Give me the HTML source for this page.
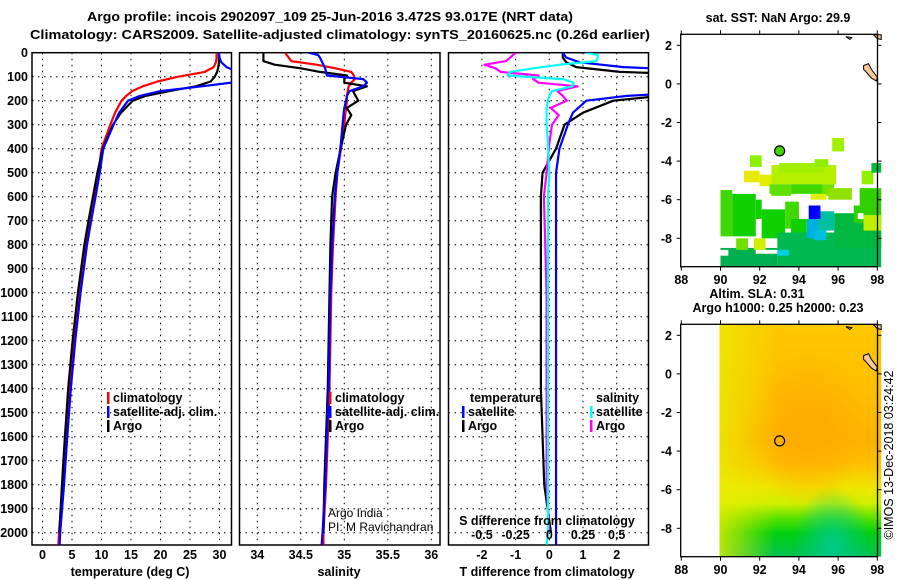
<!DOCTYPE html>
<html><head><meta charset="utf-8"><style>
html,body{margin:0;padding:0;background:#fff;}
svg{display:block;font-family:"Liberation Sans",Arial,sans-serif;}
.b{font-weight:bold;font-size:12.5px;fill:#000;}
</style></head><body>
<svg id="chart" width="900" height="580" viewBox="0 0 900 580" xmlns="http://www.w3.org/2000/svg">
<defs>
<clipPath id="c1"><rect x="32" y="52.7" width="199.5" height="492.3"/></clipPath>
<clipPath id="c2"><rect x="239.5" y="52.7" width="200.5" height="492.3"/></clipPath>
<clipPath id="c3"><rect x="448.5" y="52.7" width="200" height="492.3"/></clipPath>
<linearGradient id="slaV" x1="0" y1="0" x2="0" y2="1">
<stop offset="0" stop-color="#ffc800"/><stop offset="0.3" stop-color="#ffbe00"/>
<stop offset="0.5" stop-color="#ffb200"/><stop offset="0.6" stop-color="#ffc000"/>
<stop offset="0.7" stop-color="#f0e400"/><stop offset="0.77" stop-color="#d0f000"/>
<stop offset="0.84" stop-color="#50e000"/><stop offset="0.9" stop-color="#00d010"/>
<stop offset="1" stop-color="#00c050"/></linearGradient>
<radialGradient id="slaR" cx="0.55" cy="0.45" r="0.35"><stop offset="0" stop-color="#ffa800" stop-opacity="0.9"/><stop offset="1" stop-color="#ffa800" stop-opacity="0"/></radialGradient>
<linearGradient id="slaL" x1="0" y1="0" x2="1" y2="0"><stop offset="0" stop-color="#e8ec00" stop-opacity="0.8"/><stop offset="0.35" stop-color="#e8ec00" stop-opacity="0"/></linearGradient>
<radialGradient id="slaT" cx="0.7" cy="0.95" r="0.25"><stop offset="0" stop-color="#00c890" stop-opacity="0.9"/><stop offset="1" stop-color="#00c890" stop-opacity="0"/></radialGradient>
</defs>
<g>
<text class="b" x="330" y="21" text-anchor="middle" textLength="486" lengthAdjust="spacingAndGlyphs">Argo profile: incois 2902097_109 25-Jun-2016 3.472S 93.017E (NRT data)</text>
<text class="b" x="340" y="39" text-anchor="middle" textLength="620" lengthAdjust="spacingAndGlyphs">Climatology: CARS2009. Satellite-adjusted climatology: synTS_20160625.nc (0.26d earlier)</text>
</g>
<g id="layer"></g>
</svg>
<script>
// ---- data ----
const tDepths = [0,20,40,60,80,100,120,140,160,180,200,250,300,400,500,600,700,800,900,1000,1200,1400,1600,1800,2000,2050];
const climT = [29.5,29.5,29.4,29.0,27.5,23.0,19.5,17.0,15.2,14.2,13.4,12.3,11.5,10.0,9.5,8.8,8.05,7.35,6.8,6.25,5.35,4.6,4.0,3.45,2.8,2.7];
const satT  = [29.9,30.0,30.3,31.2,33.0,34.0,33.5,27.0,20.0,16.5,14.5,13.0,12.05,10.3,9.7,9.0,8.25,7.55,7.0,6.45,5.55,4.8,4.2,3.65,3.0,2.9];
const argoT = [29.9,29.9,29.9,29.8,29.6,29.2,28.5,26.0,21.5,17.5,15.3,13.3,11.95,10.2,9.3,8.55,7.8,7.1,6.55,6.0,5.1,4.35,3.8,3.3,2.85,null];
const sDepths = [0,10,20,35,50,65,80,95,110,125,140,160,180,200,230,260,300,380,500,600,800,1000,1200,1400,1600,1800,2000,2050];
const climS = [34.32,34.34,34.36,34.39,34.68,34.9,35.08,35.11,35.12,35.08,35.05,35.04,35.03,35.03,35.02,35.01,35.0,34.97,34.92,34.9,34.87,34.85,34.84,34.83,34.81,34.79,34.76,34.76];
const satS  = [34.59,34.7,34.72,34.74,34.76,34.78,34.79,34.8,35.22,35.26,35.22,35.06,35.03,35.02,35.0,34.99,34.98,34.96,34.92,34.89,34.86,34.84,34.83,34.82,34.80,34.78,34.75,34.74];
const argoS = [34.07,34.07,34.07,34.07,34.2,34.5,34.72,35.03,35.0,35.0,35.26,35.1,35.13,35.16,35.03,35.08,35.02,34.97,34.9,34.86,34.84,34.83,34.82,34.81,34.79,34.77,34.76,null];
const depthTicks = [0,100,200,300,400,500,600,700,800,900,1000,1100,1200,1300,1400,1500,1600,1700,1800,1900,2000];
const tempTicks = [0,5,10,15,20,25,30];
const salTicks = [34,34.5,35,35.5,36];
const salTickLabels = ['34','34.5','35','35.5','36'];
const tdTicks = [-2,-1,0,1,2];
const sdTicks = [-0.5,-0.25,0,0.25,0.5];
const sdTickLabels = ['-0.5','-0.25','0','0.25','0.5'];
const lonTicks = [88,90,92,94,96,98];
const latTicks = [2,0,-2,-4,-6,-8];
const argoLon = 93.017, argoLat = -3.472;
// SST pixel blocks: [lon0, lat0, lon1, lat1, colour]
const sstBlocks = [
[91.5,-3.7,92.1,-4.3,'#8cf000'],[91.2,-4.5,92.0,-5.1,'#e8e800'],[92.0,-4.7,92.6,-5.3,'#e0f000'],
[92.6,-4.2,95.9,-5.2,'#b4f000'],[93.0,-4.1,95.3,-4.6,'#a0f000'],[94.8,-3.9,95.5,-4.3,'#90f000'],
[95.7,-2.8,96.3,-3.5,'#a0f000'],[97.2,-4.5,97.8,-5.2,'#90f000'],[97.7,-4.1,98.2,-4.6,'#00c040'],
[92.5,-5.2,93.6,-5.8,'#60e000'],[93.6,-5.2,95.2,-5.7,'#40d800'],[95.2,-5.2,95.8,-5.8,'#70e000'],
[94.6,-5.7,95.4,-6.0,'#e0f000'],[95.5,-5.4,96.7,-6.0,'#90e000'],[97.1,-5.4,98.2,-6.3,'#30d000'],
[90.0,-5.5,90.6,-7.9,'#40d800'],[90.6,-5.7,91.8,-7.9,'#10d000'],[91.8,-6.0,92.1,-7.0,'#10d000'],
[92.1,-6.5,93.3,-8.0,'#10d000'],[93.3,-6.1,94.0,-7.5,'#40d800'],[93.6,-7.0,94.4,-8.0,'#10d000'],
[92.9,-7.7,98.2,-9.5,'#00b850'],[90.0,-8.5,92.9,-9.5,'#00b050'],[95.8,-6.7,98.2,-8.5,'#00b840'],
[96.8,-6.3,98.2,-7.2,'#30d000'],[97.3,-6.8,98.2,-7.6,'#c0f000'],
[94.4,-7.0,95.0,-8.0,'#00b0e0'],[95.0,-6.6,95.8,-7.6,'#00c0a0'],[94.8,-7.6,95.4,-8.1,'#00c0e0'],
[94.5,-6.3,95.1,-7.0,'#0000ff'],[92.9,-8.6,93.5,-8.9,'#00d0e0'],
[91.7,-8.0,92.3,-8.6,'#d0f000'],[90.8,-8.0,91.4,-8.6,'#70e000'],[90.0,-8.6,90.4,-8.9,'#ffffff'],
[91.8,-8.6,92.9,-8.8,'#ffffff'],[92.4,-5.7,92.6,-6.0,'#ffffff'],[97.0,-6.7,97.3,-7.0,'#ffffff']
];

// ---- scales ----
const Y0 = 52.7, YB = 545, YS = 0.24;
function yD(d){ return Y0 + d*YS; }
function xT(t){ return 42.5 + t*5.9; }
function xS(s){ return 257.3 + (s-34)*87; }
function xTd(d){ return 549.3 + d*33.7; }
function xSd(d){ return 549.3 + d*4*33.7; }
function mX(lon){ return 681.3 + (lon-88)*19.6; }
function mY(lat, off){ return off + 45.3 + (2-lat)*19.3; }

const NS = 'http://www.w3.org/2000/svg';
const layer = document.getElementById('layer');
function mk(tag, attrs, parent){
  const el = document.createElementNS(NS, tag);
  for (const k in attrs) el.setAttribute(k, attrs[k]);
  (parent||layer).appendChild(el);
  return el;
}
function txt(x,y,s,anchor,parent,extra){
  const el = mk('text', Object.assign({x:x,y:y,'text-anchor':anchor||'middle','class':'b'}, extra||{}), parent);
  el.textContent = s;
  return el;
}

// ---- profile panels ----
const panels = [
  {x0:32, x1:231.5, clip:'c1', name:'temperature-panel'},
  {x0:239.5, x1:440, clip:'c2', name:'salinity-panel'},
  {x0:448.5, x1:648.5, clip:'c3', name:'difference-panel'}
];
const vgrids = [tempTicks.map(xT), salTicks.map(xS), tdTicks.map(xTd)];
panels.forEach((p,i)=>{
  const g = mk('g',{});
  
  
  p.g = g;
  depthTicks.forEach(d=>{
    const l = mk('line',{x1:p.x0,x2:p.x1,y1:yD(d),y2:yD(d),stroke:'#000','stroke-width':1,'stroke-dasharray':'1.5,4.5'},g);
    
    
  });
  vgrids[i].forEach(x=>{
    const l = mk('line',{x1:x,x2:x,y1:Y0,y2:YB,stroke:'#000','stroke-width':1,'stroke-dasharray':'1.5,4.5'},g);
    
    
  });
  const fr = mk('rect',{x:p.x0,y:Y0,width:p.x1-p.x0,height:YB-Y0,fill:'none',stroke:'#000','stroke-width':1.5},g);
  
  
});

// depth axis labels
depthTicks.forEach(d=>{
  const t = txt(28, yD(d)+4.5, String(d), 'end');
  
  
});
// x tick labels
tempTicks.forEach(v=>{ const t = txt(xT(v), 559, String(v));   });
salTicks.forEach((v,i)=>{ const t = txt(xS(v), 559, salTickLabels[i]);   });
tdTicks.forEach(v=>{ const t = txt(xTd(v), 559, String(v));   });
sdTicks.forEach((v,i)=>{ const t = txt(xSd(v), 539, sdTickLabels[i]);   });
let at;
at = txt(130, 576, 'temperature (deg C)');  
at = txt(339, 576, 'salinity');  
at = txt(547, 576, 'T difference from climatology');  
at = txt(547, 525, 'S difference from climatology');  

function profile(vals, depths, xf, color, clip, parent){
  let d = '', pen = false;
  vals.forEach((v,i)=>{
    if (v === null || v === undefined){ pen = false; return; }
    d += (pen ? 'L' : 'M') + xf(v).toFixed(2) + ',' + yD(depths[i]).toFixed(2);
    pen = true;
  });
  return mk('path',{d:d,fill:'none',stroke:color,'stroke-width':2.2,'stroke-linejoin':'round','clip-path':'url(#'+clip+')'},parent);
}
function diff(a,b){ return a.map((v,i)=> (v===null||b[i]===null) ? null : v-b[i]); }
let pl;
pl = profile(climT, tDepths, xT, '#ff0000', 'c1', panels[0].g);  
pl = profile(argoT, tDepths, xT, '#000000', 'c1', panels[0].g);  
pl = profile(satT, tDepths, xT, '#0000ff', 'c1', panels[0].g);  
pl = profile(climS, sDepths, xS, '#ff0000', 'c2', panels[1].g);  
pl = profile(argoS, sDepths, xS, '#000000', 'c2', panels[1].g);  
pl = profile(satS, sDepths, xS, '#0000ff', 'c2', panels[1].g);  
pl = profile(diff(argoT,climT), tDepths, xTd, '#000000', 'c3', panels[2].g);  
pl = profile(diff(satT,climT), tDepths, xTd, '#0000ff', 'c3', panels[2].g);  
pl = profile(diff(argoS,climS), sDepths, xSd, '#ff00ff', 'c3', panels[2].g);  
pl = profile(diff(satS,climS), sDepths, xSd, '#00ffff', 'c3', panels[2].g);  

// legends
function legItem(x,y,color,label){
  const g = mk('g',{});
  
  
  mk('rect',{x:x,y:y-10,width:2.5,height:12,fill:color},g);
  txt(x+6, y, label, 'start', g);
}
legItem(107,402,'#ff0000','climatology');
legItem(107,416,'#0000ff','satellite-adj. clim.');
legItem(107,430,'#000000','Argo');
legItem(329,402,'#ff0000','climatology');
legItem(329,416,'#0000ff','satellite-adj. clim.');
legItem(329,430,'#000000','Argo');
at = txt(470, 402, 'temperature', 'start');  
at = txt(596, 402, 'salinity', 'start');  
legItem(462,416,'#0000ff','satellite');
legItem(462,430,'#000000','Argo');
legItem(590,416,'#00ffff','satellite');
legItem(590,430,'#ff00ff','Argo');
at = txt(328, 517, 'Argo India', 'start', null, {'class':'', 'font-size':'12', 'fill':'#000'});  
at = txt(328, 531, 'PI: M Ravichandran', 'start', null, {'class':'', 'font-size':'12', 'fill':'#000'});  

// ---- maps ----
function mapFrame(off, name){
  const g = mk('g',{});
  
  
  return g;
}
function mapAxes(g, off){
  const top = off+34.3, bot = off+266.7, left = 680.7, right = 877.5;
  const fr = mk('rect',{x:left,y:top,width:right-left,height:bot-top,fill:'none',stroke:'#000','stroke-width':1.3},g);
  
  
  lonTicks.forEach(l=>{
    mk('line',{x1:mX(l),x2:mX(l),y1:bot,y2:bot+4,stroke:'#000'},g);
    mk('line',{x1:mX(l),x2:mX(l),y1:top,y2:top-4,stroke:'#000'},g);
    const t = txt(mX(l), off+284, String(l), 'middle', g, {'font-size':'13'});
    
    
  });
  latTicks.forEach(l=>{
    mk('line',{x1:left-4,x2:left,y1:mY(l,off),y2:mY(l,off),stroke:'#000'},g);
    mk('line',{x1:right,x2:right+4,y1:mY(l,off),y2:mY(l,off),stroke:'#000'},g);
    const t = txt(672, mY(l,off)+4.5, String(l), 'end', g, {'font-size':'13'});
    
    
  });
}
function land(g, off){
  const pts = [[97.3,0.95],[97.55,1.05],[97.7,0.75],[97.85,0.55],[98.0,0.35],[97.95,0.15],[97.7,0.3],[97.45,0.6],[97.3,0.75]];
  const p = mk('polygon',{points:pts.map(q=>mX(q[0]).toFixed(1)+','+mY(q[1],off).toFixed(1)).join(' '),fill:'#f8c898',stroke:'#000','stroke-width':1},g);
  
  
  const p2 = mk('polygon',{points:[[97.8,2.55],[98.2,2.55],[98.2,2.3],[98.0,2.35]].map(q=>mX(q[0]).toFixed(1)+','+mY(q[1],off).toFixed(1)).join(' '),fill:'#f8c898',stroke:'#000','stroke-width':1},g);
  
  
  const p3 = mk('polygon',{points:[[96.4,2.45],[96.7,2.4],[96.6,2.3]].map(q=>mX(q[0]).toFixed(1)+','+mY(q[1],off).toFixed(1)).join(' '),fill:'#f8c898',stroke:'#000','stroke-width':1},g);
  
  
}
// map 1: SST
const g1 = mapFrame(0,'sst-map');
sstBlocks.forEach(b=>{
  const r = mk('rect',{x:mX(b[0]),y:mY(b[1],0),width:mX(b[2])-mX(b[0]),height:mY(b[3],0)-mY(b[1],0),fill:b[4]},g1);
  
  
});
land(g1,0);
mapAxes(g1,0);
const pt1 = mk('circle',{cx:mX(argoLon),cy:mY(argoLat,0),r:5,fill:'#40d800',stroke:'#000','stroke-width':1.2},g1);


at = txt(778, 22, 'sat. SST: NaN Argo: 29.9', 'middle', g1);  
// map 2: SLA
const g2 = mapFrame(290,'sla-map');
const x90 = mX(89.95), x98 = mX(98.2), yt = 290+34.3, yb = 290+266.7;
['url(#slaV)','url(#slaR)','url(#slaL)','url(#slaT)'].forEach(f=>{
  const r = mk('rect',{x:x90,y:yt,width:x98-x90,height:yb-yt,fill:f},g2);
  
  
});
land(g2,290);
mapAxes(g2,290);
const pt2 = mk('circle',{cx:mX(argoLon),cy:mY(argoLat,290),r:5,fill:'none',stroke:'#000','stroke-width':1.2},g2);


at = txt(757, 298, 'Altim. SLA: 0.31', 'middle', g2);  
at = txt(778, 312, 'Argo h1000: 0.25 h2000: 0.23', 'middle', g2);  
at = txt(0, 0, '\u00A9IMOS 13-Dec-2018 03:24:42', 'middle', null, {'class':'', 'font-size':'12.5', 'fill':'#000', transform:'translate(893,455) rotate(-90)'});


</script>
</body></html>
